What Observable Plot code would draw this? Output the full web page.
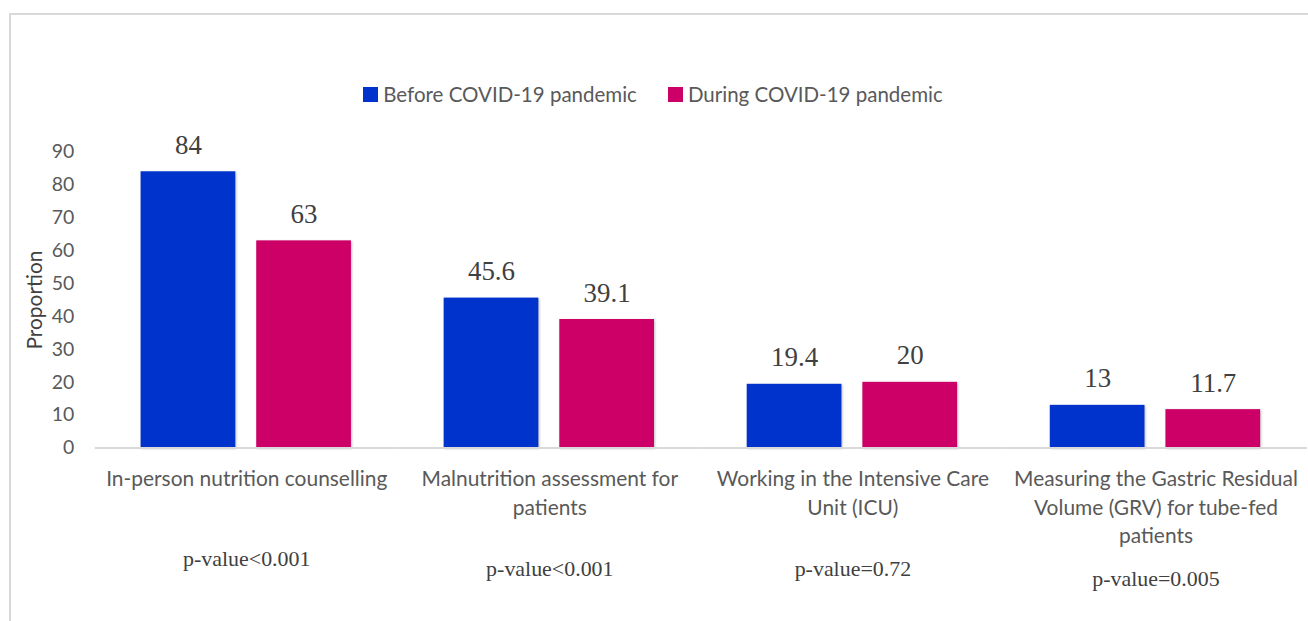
<!DOCTYPE html>
<html>
<head>
<meta charset="utf-8">
<script src="https://cdn.jsdelivr.net/npm/d3@7"></script>
<script src="https://cdn.jsdelivr.net/npm/@observablehq/plot@0.6"></script>
<style>
  html, body { margin: 0; padding: 0; background: #fff; overflow: hidden; }
  #wrap { position: relative; width: 1308px; height: 621px; overflow: hidden; }
  #frame { position: absolute; left: 9px; top: 13px; width: 1320px; height: 640px; border: 2px solid #d9d9d9; box-sizing: border-box; pointer-events: none; }
  #legend { position: absolute; top: 82px; left: 0; width: 1306px; display: flex; justify-content: center; gap: 31px;
            font-family: Lato, "Open Sans", sans-serif; font-size: 20.5px; line-height: 24px; color: #595959; z-index: 2; }
  #legend .item { display: flex; align-items: center; }
  #legend .sw { width: 15px; height: 15px; margin-right: 5px; display: inline-block; }
  #chart { position: absolute; left: 0; top: 0; }
  #chart g[aria-label="bar"] rect { filter: drop-shadow(1px 1px 1px rgba(0,0,0,0.25)); }
</style>
</head>
<body>
<div id="wrap">
  <div id="frame"></div>
  <div id="legend"></div>
  <div id="chart"></div>
</div>
<script>
// ---- data ----
const categories = [
  "In-person nutrition counselling",
  "Malnutrition assessment for patients",
  "Working in the Intensive Care Unit (ICU)",
  "Measuring the Gastric Residual Volume (GRV) for tube-fed patients"
];
const categoryLabelLines = [
  ["In-person nutrition counselling"],
  ["Malnutrition assessment for", "patients"],
  ["Working in the Intensive Care", "Unit (ICU)"],
  ["Measuring the Gastric Residual", "Volume (GRV) for tube-fed", "patients"]
];
const series = ["Before COVID-19 pandemic", "During COVID-19 pandemic"];
const beforeValues = [84, 45.6, 19.4, 13];
const duringValues = [63, 39.1, 20, 11.7];
const pValues = ["p-value<0.001", "p-value<0.001", "p-value=0.72", "p-value=0.005"];
const yTicks = [0, 10, 20, 30, 40, 50, 60, 70, 80, 90];
const yLabel = "Proportion";
const colors = ["#0033cc", "#cc0066"];

// ---- table built from arrays ----
const rows = [];
categories.forEach((c, i) => {
  rows.push({category: c, series: series[0], value: beforeValues[i]});
  rows.push({category: c, series: series[1], value: duringValues[i]});
});
const labelOf = new Map(categories.map((c, i) => [c, categoryLabelLines[i].join("\n")]));
const pOf = new Map(categories.map((c, i) => [c, pValues[i]]));
const lineCount = new Map(categories.map((c, i) => [c, categoryLabelLines[i].length]));

// legend (HTML, above the svg)
const legend = document.getElementById("legend");
series.forEach((s, i) => {
  const it = document.createElement("span");
  it.className = "item";
  const sw = document.createElement("span");
  sw.className = "sw";
  sw.style.background = colors[i];
  it.appendChild(sw);
  it.appendChild(document.createTextNode(s));
  legend.appendChild(it);
});

const sans = "Lato, 'Open Sans', sans-serif";
const serif = "'Liberation Serif', 'DejaVu Serif', serif";

// p-value axes, one per label line count so they sit below the wrapped labels
const pAxes = d3.groups(categories, c => lineCount.get(c)).map(([n, cats]) =>
  Plot.axisFx({
    anchor: "bottom", ticks: cats, tickSize: 0, tickPadding: 103, dy: (n - 1) * 10,
    tickFormat: c => pOf.get(c), fontFamily: serif, fontSize: 22, fill: "#404040", label: null
  })
);

const chart = Plot.plot({
  width: 1312,
  height: 621,
  marginLeft: 94,
  marginRight: 0,
  marginTop: 152,
  marginBottom: 172,
  style: {background: "transparent", overflow: "visible"},
  fx: {domain: categories, padding: 0, label: null},
  x: {domain: series, paddingInner: 0.18, paddingOuter: 0.39, axis: null},
  y: {domain: [0, 90], label: null},
  color: {domain: series, range: colors},
  marks: [
    Plot.axisY({
      ticks: yTicks, tickSize: 0, tickPadding: 21, fontFamily: sans, fontSize: 19.5, fill: "#595959",
      label: null
    }),
    Plot.axisY({
      ticks: [], tickSize: 0, fontFamily: sans, fontSize: 21, fill: "#404040",
      label: yLabel, labelAnchor: "center", labelOffset: 68, labelArrow: "none"
    }),
    Plot.barY(rows, {fx: "category", x: "series", y: "value", fill: "series"}),
    Plot.ruleY([0], {stroke: "#d9d9d9", strokeWidth: 2}),
    Plot.text(rows, {
      fx: "category", x: "series", y: "value", text: d => String(d.value),
      lineAnchor: "bottom", dy: -18, fontFamily: serif, fontSize: 27, fill: "#404040"
    }),
    Plot.axisFx({
      anchor: "bottom", tickSize: 0, tickPadding: 18, tickFormat: c => labelOf.get(c),
      lineHeight: 1.36, fontFamily: sans, fontSize: 21, fill: "#595959", label: null
    }),
    ...pAxes
  ]
});
document.getElementById("chart").appendChild(chart);
</script>
</body>
</html>
